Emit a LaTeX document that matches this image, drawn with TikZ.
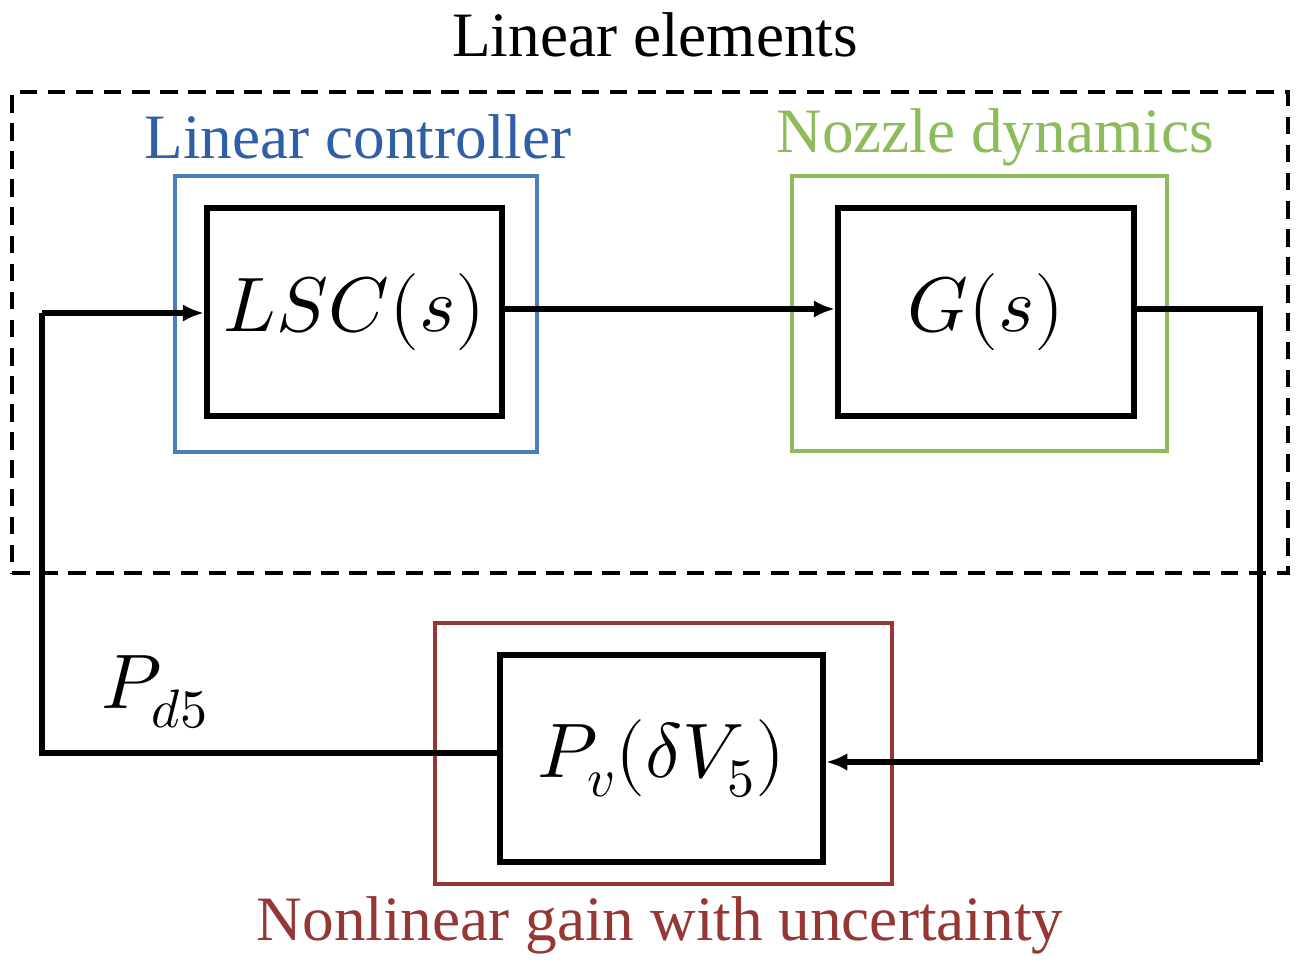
\documentclass[tikz,border=0pt]{standalone}
\usepackage{fontspec}
\usepackage{unicode-math}
\setmainfont{Liberation Serif}
\setmathfont{Latin Modern Math}
\usetikzlibrary{arrows.meta}
\definecolor{cblue}{HTML}{4A7EBB}
\definecolor{tblue}{HTML}{2E5FA8}
\definecolor{cgreen}{HTML}{8FBC5A}
\definecolor{cred}{HTML}{953735}
\begin{document}
\begin{tikzpicture}[x=0.02cm,y=-0.02cm,
  blk/.style={draw=black,line width=3.6pt,inner sep=0pt},
  grp/.style={draw,line width=1.8pt,inner sep=0pt},
  con/.style={line width=3.2pt},
  arr/.style={con,-{Latex[length=12pt,width=10pt]}},
  lbl/.style={font=\fontsize{36}{42}\selectfont},
  mth/.style={font=\fontsize{44}{50}\selectfont}]
\useasboundingbox (0,0) rectangle (1300,969);
\node[lbl] (title) at (655,35) {Linear elements};
\node[draw,line width=1.8pt,dash pattern=on 10pt off 6pt,minimum width=1276*0.02cm,minimum height=481*0.02cm] (lin) at (650,332.5) {};
\node[grp,draw=cblue,minimum width=362*0.02cm,minimum height=276*0.02cm] (bg) at (356,314) {};
\node[lbl,text=tblue] (tb) at (358,137) {Linear controller};
\node[grp,draw=cgreen,minimum width=375*0.02cm,minimum height=275*0.02cm] (gg) at (979.5,313.5) {};
\node[lbl,text=cgreen] (tg) at (995,137) {Nozzle dynamics};
\node[grp,draw=cred,minimum width=457*0.02cm,minimum height=261*0.02cm] (rg) at (663.5,753.5) {};
\node[lbl,text=cred] (tr) at (660,925) {Nonlinear gain with uncertainty};
\node[blk,mth,minimum width=295*0.02cm,minimum height=208*0.02cm] (lsc) at (354.5,312) {$LSC(s)$};
\node[blk,mth,minimum width=296*0.02cm,minimum height=208*0.02cm] (g) at (986,312) {$G(s)$};
\node[blk,mth,minimum width=323*0.02cm,minimum height=207*0.02cm] (pv) at (661.5,758.5) {$P_v(\delta V_5)$};
\node[mth] (pd) at (155,692) {$P_{d5}$};
\coordinate (c1) at (1260,309);
\coordinate (c2) at (1260,762);
\coordinate (c3) at (42,753);
\coordinate (c4) at (42,313);
\draw[arr] (lsc.east |- 0,309) -- (g.west |- 0,309);
\draw[con] (g.east |- c1) -- (c1) -- (c2);
\draw[arr] (c2) -- (pv.east |- c2);
\draw[con] (pv.west |- c3) -- (c3) -- (c4);
\draw[arr] (c4) -- (lsc.west |- c4);
\end{tikzpicture}
\end{document}
